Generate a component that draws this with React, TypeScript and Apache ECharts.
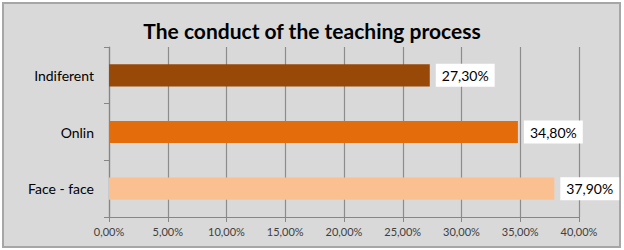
import React, { useEffect, useRef } from "react";
import * as echarts from "echarts";

const categories = ["Face - face", "Onlin", "Indiferent"];
const values = [37.9, 34.8, 27.3];
const barColors = ["#FAC090", "#E46C0A", "#984807"];
const xTicks = [0, 5, 10, 15, 20, 25, 30, 35, 40];
const title = "The conduct of the teaching process";

const fmt = (v: number) => v.toFixed(2).replace(".", ",") + "%";

export default function App() {
  const ref = useRef<HTMLDivElement>(null);
  useEffect(() => {
    if (!ref.current) return;
    const chart = echarts.init(ref.current, undefined, { renderer: "svg" });
    const font = "Lato, 'Open Sans', sans-serif";
    chart.setOption({
      animation: false,
      backgroundColor: "#ffffff",
      graphic: [
        {
          type: "rect",
          z: -10,
          shape: { x: 3, y: 3, width: 617, height: 244 },
          style: { fill: "#d9d9d9", stroke: "#a6a6a6", lineWidth: 2 },
          silent: true,
        },
      ],
      title: {
        text: title,
        left: "center",
        top: 15,
        textStyle: { fontFamily: font, fontSize: 21, fontWeight: "bold", color: "#000" },
      },
      grid: { left: 109, right: 45, top: 47, bottom: 33, containLabel: false },
      xAxis: {
        type: "value",
        min: xTicks[0],
        max: xTicks[xTicks.length - 1],
        interval: 5,
        axisLine: { show: true, lineStyle: { color: "#868686", width: 1 } },
        axisTick: { show: true, length: 5, lineStyle: { color: "#868686" } },
        splitLine: { show: true, lineStyle: { color: "#8c8c8c", width: 1.2 } },
        axisLabel: {
          formatter: (v: number) => fmt(v),
          fontFamily: font,
          fontSize: 11,
          color: "#404040",
          margin: 9,
        },
      },
      yAxis: {
        type: "category",
        data: categories,
        axisLine: { show: true, lineStyle: { color: "#868686", width: 1.2 } },
        axisTick: { show: true, length: 5, lineStyle: { color: "#868686" } },
        axisLabel: { fontFamily: font, fontSize: 14, color: "#000", margin: 15 },
        splitLine: { show: false },
      },
      series: [
        {
          type: "bar",
          data: values.map((v, i) => ({ value: v, itemStyle: { color: barColors[i] } })),
          barWidth: "39%",
          label: {
            show: true,
            position: "right",
            distance: 6,
            formatter: (p: any) => fmt(p.value),
            backgroundColor: "#ffffff",
            padding: [5, 6, 4, 6],
            fontFamily: font,
            fontSize: 14,
            color: "#000",
          },
        },
      ],
    });
    return () => chart.dispose();
  }, []);
  return (
    <div
      ref={ref}
      style={{ position: "absolute", left: 0, top: 0, width: 624, height: 250 }}
    />
  );
}
